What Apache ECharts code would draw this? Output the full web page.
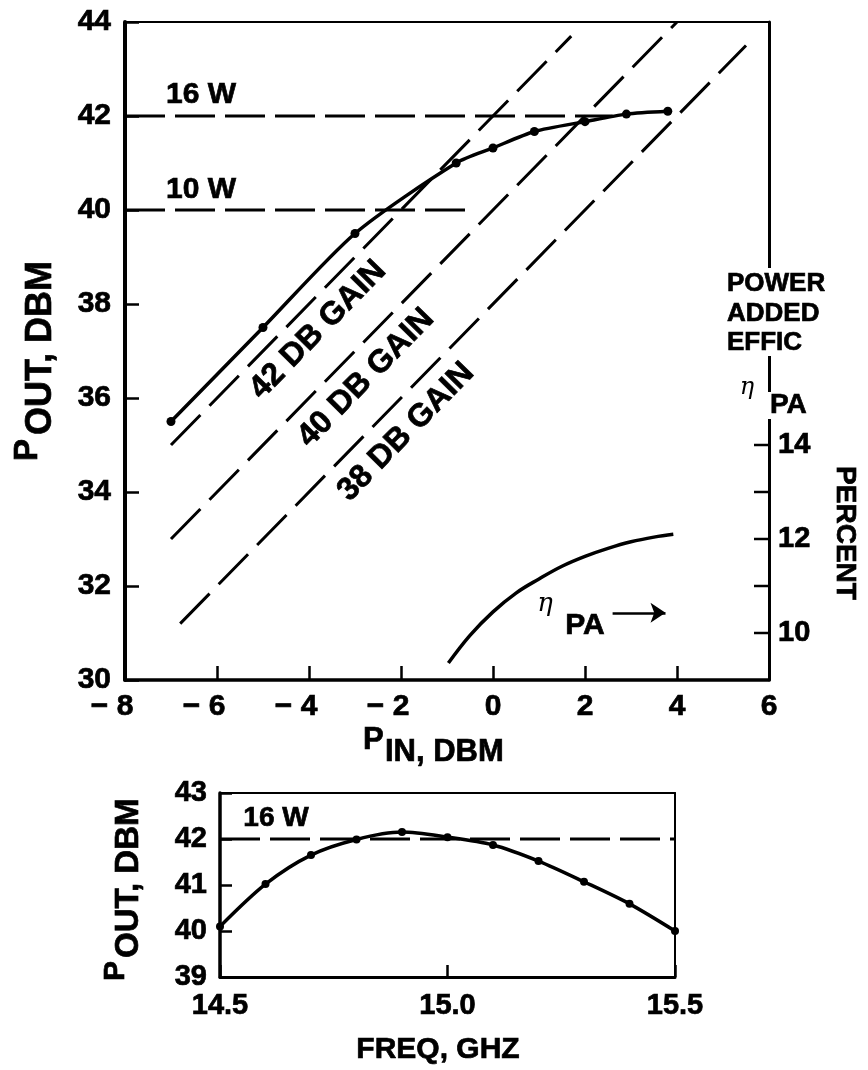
<!DOCTYPE html>
<html><head><meta charset="utf-8">
<script src="https://cdn.jsdelivr.net/npm/echarts@6/dist/echarts.min.js"></script>
<style>html,body{margin:0;padding:0;background:#fff}#c{width:868px;height:1070px}</style>
</head><body><div id="c"></div>
<script>
// ---- data ----
const pinMain = [-7, -5, -3, -0.8, 0, 0.9, 2, 2.9, 3.8];
const poutMain = [35.5, 37.5, 39.5, 41.0, 41.32, 41.67, 41.88, 42.04, 42.1];
const pinEff = [-0.97, -0.5, 0, 0.5, 1, 1.5, 2, 2.5, 3, 3.5, 3.92];
const effPA = [9.36, 9.95, 10.45, 10.85, 11.15, 11.42, 11.63, 11.8, 11.94, 12.04, 12.1];
const gain42 = [[-7, 35], [1.7, 43.7]];
const gain40 = [[-7, 33], [4, 44]];
const gain38 = [[-6.8, 31.2], [5.5, 43.5]];
const line16W = [[-8, 42], [2.6, 42]];
const line10W = [[-8, 40], [-0.6, 40]];
const freqGHz = [14.5, 14.6, 14.7, 14.8, 14.9, 15.0, 15.1, 15.2, 15.3, 15.4, 15.5];
const poutFreq = [40.1, 41.02, 41.65, 41.99, 42.15, 42.04, 41.87, 41.52, 41.07, 40.59, 40.0];
const line16WFreq = [[14.5, 42], [15.5, 42]];
const effTicks = [10, 11, 12, 13, 14];
const effLabels = [10, 12, 14];
const etaArrow = [[2.6, 10.43], [3.75, 10.43]];
const gainLabels = ['42 DB GAIN', '40 DB GAIN', '38 DB GAIN'];

const FF = '"Liberation Sans", Arial, Helvetica, sans-serif';
const BLACK = '#000';
const zip = (a, b) => a.map((v, i) => [v, b[i]]);
const dash = [40, 10];
const STROKE = 0.7;

function txt(x, y, text, size, o) {
  o = o || {};
  return {
    type: 'text', x: x, y: y, rotation: o.rot || 0, z: 100,
    style: {
      text: text, fill: BLACK, stroke: o.normal ? null : BLACK, lineWidth: o.normal ? 0 : STROKE,
      font: (o.italic ? 'italic ' : '') + (o.normal ? 'normal ' : 'bold ') + size + 'px ' + (o.family || FF),
      align: o.align || 'center', verticalAlign: o.va || 'middle'
    }
  };
}

const chart = echarts.init(document.getElementById('c'), null, {renderer: 'canvas'});

const negFmt = v => v < 0 ? '{m|− }' + Math.abs(v) + '{h|− }' : String(v);

const labelBase = {color: BLACK, fontWeight: 'bold', fontFamily: FF, textBorderColor: BLACK, textBorderWidth: STROKE};

const option = {
  animation: false,
  backgroundColor: '#fff',
  grid: [
    {left: 125, top: 22, width: 644, height: 658},
    {left: 220, top: 793, width: 455, height: 184}
  ],
  xAxis: [
    {gridIndex: 0, type: 'value', min: -8, max: 6, interval: 2, position: 'bottom',
     axisLine: {show: true, onZero: false, lineStyle: {color: BLACK, width: 3.5}},
     axisTick: {show: true, inside: true, length: 14, lineStyle: {color: BLACK, width: 2.5}},
     axisLabel: Object.assign({}, labelBase, {fontSize: 30, margin: 12, formatter: negFmt,
       rich: {m: {fontSize: 30, fontWeight: 'bold', color: BLACK, fontFamily: FF, textBorderColor: BLACK, textBorderWidth: STROKE},
              h: {fontSize: 30, fontWeight: 'bold', color: 'rgba(0,0,0,0)', fontFamily: FF, textBorderWidth: 0}}}),
     splitLine: {show: false}},
    {gridIndex: 0, type: 'value', min: -8, max: 6, position: 'top',
     axisLine: {show: true, onZero: false, lineStyle: {color: BLACK, width: 2}},
     axisTick: {show: false}, axisLabel: {show: false}, splitLine: {show: false}},
    {gridIndex: 1, type: 'value', min: 14.5, max: 15.5, interval: 0.5, position: 'bottom',
     axisLine: {show: true, onZero: false, lineStyle: {color: BLACK, width: 3}},
     axisTick: {show: true, inside: true, length: 12, lineStyle: {color: BLACK, width: 2.5}},
     axisLabel: Object.assign({}, labelBase, {fontSize: 29, margin: 14, formatter: v => v.toFixed(1)}),
     splitLine: {show: false}},
    {gridIndex: 1, type: 'value', min: 14.5, max: 15.5, position: 'top',
     axisLine: {show: true, onZero: false, lineStyle: {color: BLACK, width: 2}},
     axisTick: {show: false}, axisLabel: {show: false}, splitLine: {show: false}}
  ],
  yAxis: [
    {gridIndex: 0, type: 'value', min: 30, max: 44, interval: 2, position: 'left',
     axisLine: {show: true, onZero: false, lineStyle: {color: BLACK, width: 4}},
     axisTick: {show: true, inside: true, length: 14, lineStyle: {color: BLACK, width: 2.5}},
     axisLabel: Object.assign({}, labelBase, {fontSize: 30, margin: 14}),
     splitLine: {show: false}},
    {gridIndex: 0, type: 'value', min: 9, max: 23, interval: 1, position: 'right',
     axisLine: {show: true, onZero: false, lineStyle: {color: BLACK, width: 3}},
     axisTick: {show: false},
     axisLabel: Object.assign({}, labelBase, {fontSize: 29, margin: 9,
       formatter: v => effLabels.indexOf(v) >= 0 ? String(v) : ''}),
     splitLine: {show: false}},
    {gridIndex: 1, type: 'value', min: 39, max: 43, interval: 1, position: 'left',
     axisLine: {show: true, onZero: false, lineStyle: {color: BLACK, width: 3.5}},
     axisTick: {show: true, inside: true, length: 12, lineStyle: {color: BLACK, width: 2.5}},
     axisLabel: Object.assign({}, labelBase, {fontSize: 29, margin: 13}),
     splitLine: {show: false}},
    {gridIndex: 1, type: 'value', min: 39, max: 43, position: 'right',
     axisLine: {show: true, onZero: false, lineStyle: {color: BLACK, width: 2}},
     axisTick: {show: false}, axisLabel: {show: false}, splitLine: {show: false}}
  ],
  series: [
    {name: 'Pout', type: 'line', xAxisIndex: 0, yAxisIndex: 0, data: zip(pinMain, poutMain),
     smooth: 0.25, symbol: 'circle', symbolSize: 9, itemStyle: {color: BLACK},
     lineStyle: {color: BLACK, width: 3.5}, z: 5},
    {name: '16 W', type: 'line', xAxisIndex: 0, yAxisIndex: 0, data: line16W, symbol: 'none',
     lineStyle: {color: BLACK, width: 3, type: dash}},
    {name: '10 W', type: 'line', xAxisIndex: 0, yAxisIndex: 0, data: line10W, symbol: 'none',
     lineStyle: {color: BLACK, width: 3, type: dash}},
    {name: '42 dB', type: 'line', xAxisIndex: 0, yAxisIndex: 0, data: gain42, symbol: 'none',
     lineStyle: {color: BLACK, width: 3, type: [42, 13]}},
    {name: '40 dB', type: 'line', xAxisIndex: 0, yAxisIndex: 0, data: gain40, symbol: 'none',
     lineStyle: {color: BLACK, width: 3, type: [42, 13]}},
    {name: '38 dB', type: 'line', xAxisIndex: 0, yAxisIndex: 0, data: gain38, symbol: 'none',
     lineStyle: {color: BLACK, width: 3, type: [42, 13]}},
    {name: 'etaPA', type: 'line', xAxisIndex: 0, yAxisIndex: 1, data: zip(pinEff, effPA),
     smooth: 0.4, symbol: 'none', lineStyle: {color: BLACK, width: 3.5},
     markLine: {silent: true, symbol: ['none', 'arrow'], symbolSize: 15,
       lineStyle: {color: BLACK, width: 2.5, type: 'solid'}, label: {show: false},
       data: [[{coord: etaArrow[0]}, {coord: etaArrow[1]}]]}},
    {name: 'effTicks', type: 'custom', xAxisIndex: 0, yAxisIndex: 1, silent: true, clip: false,
     data: effTicks.map(v => [6, v]),
     renderItem: function (params, api) {
       const p = api.coord([api.value(0), api.value(1)]);
       return {type: 'line', shape: {x1: p[0], y1: p[1], x2: p[0] - 15, y2: p[1]},
               style: {stroke: BLACK, lineWidth: 2.5}};
     }},
    {name: 'Pout vs f', type: 'line', xAxisIndex: 2, yAxisIndex: 2, data: zip(freqGHz, poutFreq),
     smooth: 0.3, symbol: 'circle', symbolSize: 8, itemStyle: {color: BLACK},
     lineStyle: {color: BLACK, width: 3.5}, z: 5},
    {name: '16 W f', type: 'line', xAxisIndex: 2, yAxisIndex: 2, data: line16WFreq, symbol: 'none',
     lineStyle: {color: BLACK, width: 3, type: dash}}
  ],
  graphic: []
};

const ang = Math.atan(47 / 46);
option.graphic = [
  txt(201, 95, '16 W', 30),
  txt(201, 190, '10 W', 30),
  txt(318, 330, gainLabels[0], 32, {rot: ang}),
  txt(366, 378, gainLabels[1], 32, {rot: ang}),
  txt(406, 432, gainLabels[2], 32, {rot: ang}),
  txt(545, 604, 'η', 26, {italic: true, normal: true, family: '"DejaVu Serif", serif'}),
  txt(585, 626, 'PA', 30),
  // right-side label, white boxes break the axis line
  {type: 'rect', z: 90, shape: {x: 760, y: 268, width: 16, height: 88}, style: {fill: '#fff'}},
  {type: 'rect', z: 90, shape: {x: 760, y: 392, width: 16, height: 27}, style: {fill: '#fff'}},
  txt(727, 284, 'POWER', 26, {align: 'left'}),
  txt(727, 314, 'ADDED', 26, {align: 'left'}),
  txt(727, 343, 'EFFIC', 26, {align: 'left'}),
  txt(747, 388, 'η', 24, {italic: true, normal: true, family: '"DejaVu Serif", serif'}),
  txt(770, 405, 'PA', 28, {align: 'left'}),
  txt(845, 533, 'PERCENT', 28, {rot: -Math.PI / 2}),
  // main y title
  txt(28, 461, 'P', 33, {rot: Math.PI / 2, align: 'left'}),
  txt(41, 435, 'OUT, DBM', 36, {rot: Math.PI / 2, align: 'left'}),
  // main x title
  txt(363, 740, 'P', 31, {align: 'left'}),
  txt(385, 752, 'IN, DBM', 31, {align: 'left'}),
  // bottom chart
  txt(276, 818, '16 W', 28),
  txt(116, 981, 'P', 30, {rot: Math.PI / 2, align: 'left'}),
  txt(129, 958, 'OUT, DBM', 33, {rot: Math.PI / 2, align: 'left'}),
  txt(438, 1050, 'FREQ, GHZ', 30)
];

chart.setOption(option);
</script>
</body></html>
